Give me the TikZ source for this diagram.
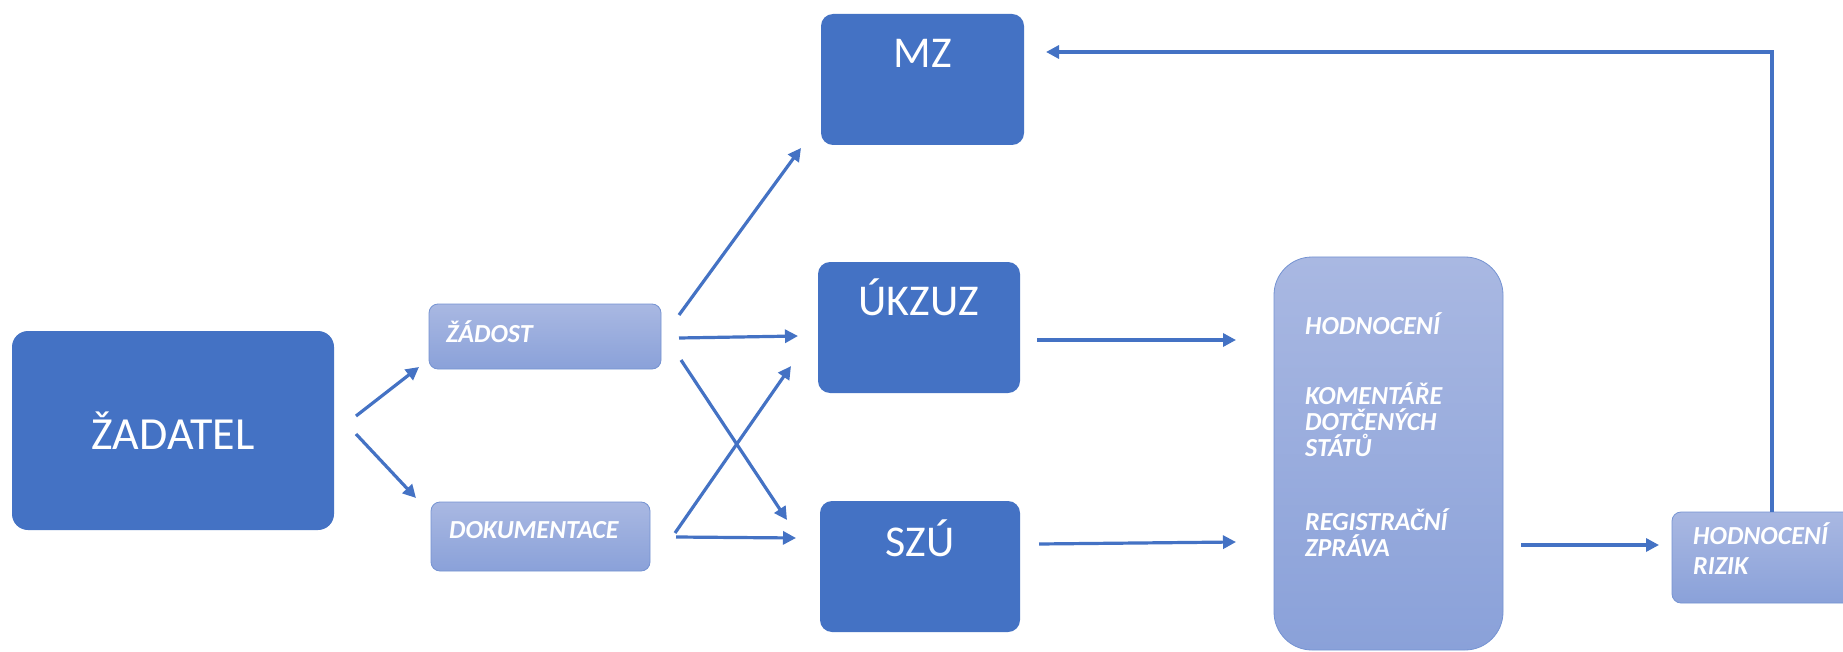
\documentclass[tikz,border=0pt]{standalone}
\usepackage{fontspec}
\setmainfont{Carlito}
\usetikzlibrary{arrows.meta,calc}
\definecolor{dkblue}{HTML}{4472C4}
\definecolor{lttop}{HTML}{A9B8E2}
\definecolor{ltbot}{HTML}{8AA1D9}
\definecolor{ltedge}{HTML}{7593D2}
\tikzset{
  dkbox/.style={fill=dkblue, draw=none, rounded corners=12pt, inner sep=0pt, outer sep=0pt},
  ltbox/.style={top color=lttop, bottom color=ltbot, draw=ltedge, line width=0.8pt, rounded corners=9pt, inner sep=0pt, outer sep=0pt},
  bigtxt/.style={text=white, font=\fontsize{44}{50}\selectfont, inner sep=0pt},
  lttxt/.style={text=white, font=\fontsize{26}{30}\selectfont\bfseries\itshape, inner sep=0pt, anchor=base west},
  arr/.style={draw=dkblue, line width=3.2pt, -{Triangle[length=13pt,width=13pt]}},
}
\begin{document}
\begin{tikzpicture}[x=1pt,y=-1pt]
\useasboundingbox (0,0) rectangle (1843,652);
\fill[white] (0,0) rectangle (1843,652);
\clip (0,0) rectangle (1843,652);
% boxes
\node[dkbox, minimum width=322pt, minimum height=199pt, rounded corners=16pt, text=white, font=\fontsize{46}{52}\selectfont] (zad) at (173,430.5) {ŽADATEL};
\node[ltbox, minimum width=232pt, minimum height=65pt] (zados) at (545,336.5) {};
\node[ltbox, minimum width=219pt, minimum height=69pt] (dok) at (540.5,536.5) {};
\node[dkbox, minimum width=203pt, minimum height=131pt] (mz) at (922.5,79.5) {};
\node[dkbox, minimum width=202pt, minimum height=131pt] (ukzuz) at (919,327.5) {};
\node[dkbox, minimum width=200pt, minimum height=131pt] (szu) at (920,566.5) {};
\node[ltbox, minimum width=229pt, minimum height=393pt, rounded corners=38pt] (big) at (1388.5,453.5) {};
\node[ltbox, minimum width=208pt, minimum height=91pt] (hr) at (1776,557.5) {};
% labels
\node[bigtxt, anchor=base] (mzt) at ($(mz.north)+(0,54)$) {MZ};
\node[bigtxt, anchor=base] (ukzuzt) at ($(ukzuz.north)+(0,53)$) {ÚKZUZ};
\node[bigtxt, anchor=base] (szut) at ($(szu.north)+(0,55)$) {SZÚ};
\node[lttxt] (zadost) at ($(zados.west)+(17,5.5)$) {ŽÁDOST};
\node[lttxt] (dokt) at ($(dok.west)+(18,1.5)$) {DOKUMENTACE};
\node[lttxt] (b1) at (1305,334) {HODNOCENÍ};
\node[lttxt] (b2) at (1305,404) {KOMENTÁŘE};
\node[lttxt] (b3) at (1305,430) {DOTČENÝCH};
\node[lttxt] (b4) at (1305,456) {STÁTŮ};
\node[lttxt] (b5) at (1305,530) {REGISTRAČNÍ};
\node[lttxt] (b6) at (1305,556) {ZPRÁVA};
\node[lttxt] (h1) at (1693,544) {HODNOCENÍ};
\node[lttxt] (h2) at (1693,574) {RIZIK};
% connectors
\draw[arr] ($(zad.east)+(22,-14.5)$) -- ($(zados.south west)+(-10,-2)$);
\draw[arr] ($(zad.east)+(22,3.5)$) -- ($(dok.north west)+(-15,-4)$);
\draw[arr] ($(zados.east)+(18,-21.5)$) -- ($(mz.south west)+(-20,3)$);
\draw[arr] ($(zados.east)+(18,1.5)$) -- ($(ukzuz.west)+(-20,8.5)$);
\draw[arr] ($(zados.east)+(20,23.5)$) -- ($(szu.north west)+(-33,19)$);
\draw[arr] ($(dok.east)+(25,-3.5)$) -- ($(ukzuz.south west)+(-27,-27)$);
\draw[arr] ($(dok.east)+(26,0.5)$) -- ($(szu.west)+(-24,-28.5)$);
\draw[arr] ($(ukzuz.east)+(17,12.5)$) -- ($(big.west)+(-38,-113.5)$);
\draw[arr] ($(szu.east)+(19,-22.5)$) -- ($(big.west)+(-38,88.5)$);
\draw[arr] ($(big.east)+(18,91.5)$) -- ($(hr.west)+(-13,-12.5)$);
\draw[arr] ($(hr.north)+(-4,0)$) |- ($(mz.east)+(22,-27.5)$);
\end{tikzpicture}
\end{document}
